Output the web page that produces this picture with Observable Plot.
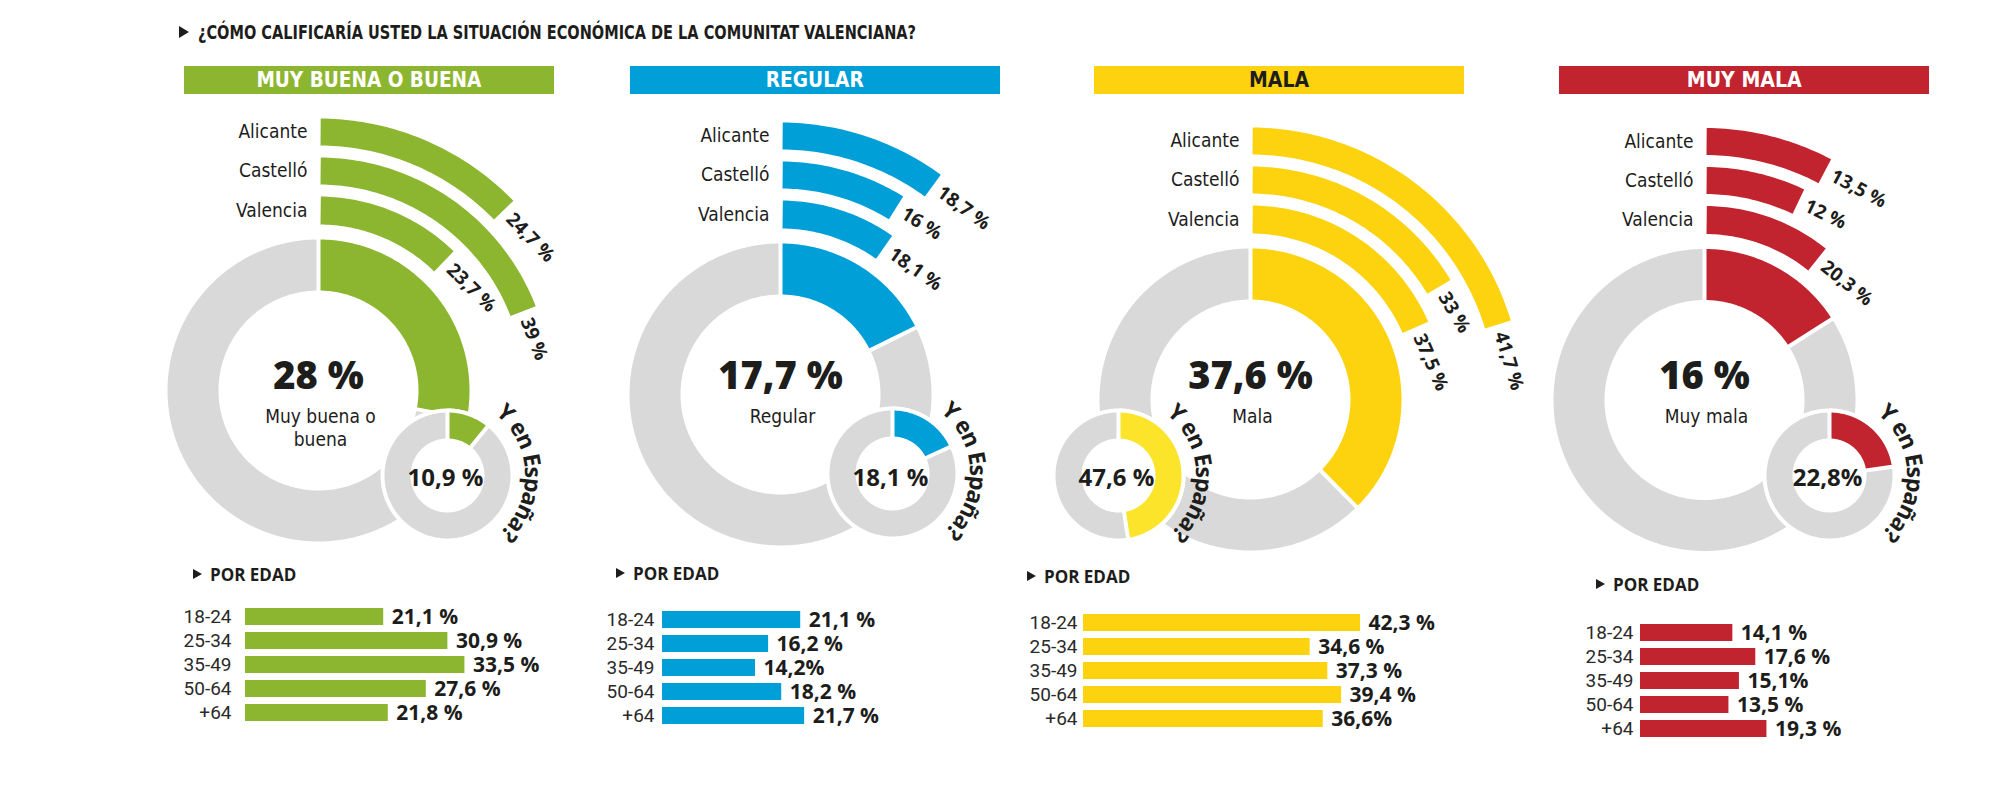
<!DOCTYPE html>
<html><head><meta charset="utf-8">
<script src="https://cdn.jsdelivr.net/npm/d3@7"></script>
<script src="https://cdn.jsdelivr.net/npm/@observablehq/plot@0.6"></script>
<style>
body{margin:0;background:#fff;}
#chart{position:relative;width:2000px;height:787px;overflow:hidden;background:#fff;color:#1d1d1b;}
.abs{position:absolute;}
.narrow{font-family:'Liberation Sans Narrow','DejaVu Sans Condensed','Roboto',sans-serif;font-weight:700;}
.fit{display:inline-block;white-space:nowrap;}
.tri{position:absolute;width:0;height:0;border-left:10px solid #1d1d1b;border-top:6px solid transparent;border-bottom:6px solid transparent;}
.hdr{display:flex;align-items:center;justify-content:center;overflow:visible;}
</style></head>
<body><div id="chart"></div>
<script>
// ---------------- DATA ----------------
const title = "¿CÓMO CALIFICARÍA USTED LA SITUACIÓN ECONÓMICA DE LA COMUNITAT VALENCIANA?";
const categories = ["MUY BUENA O BUENA", "REGULAR", "MALA", "MUY MALA"];
const centerNames = [["Muy buena o", "buena"], ["Regular"], ["Mala"], ["Muy mala"]];
const totalValues = [28, 17.7, 37.6, 16];
const totalLabels = ["28 %", "17,7 %", "37,6 %", "16 %"];
const provinces = ["Alicante", "Castelló", "Valencia"];
const alicanteValues = [24.7, 18.7, 41.7, 13.5];
const castelloValues = [39, 16, 33, 12];
const valenciaValues = [23.7, 18.1, 37.5, 20.3];
const alicanteLabels = ["24,7 %", "18,7 %", "41,7 %", "13,5 %"];
const castelloLabels = ["39 %", "16 %", "33 %", "12 %"];
const valenciaLabels = ["23,7 %", "18,1 %", "37,5 %", "20,3 %"];
const spainValues = [10.9, 18.1, 47.6, 22.8];
const spainLabels = ["10,9 %", "18,1 %", "47,6 %", "22,8%"];
const spainQuestion = "Y en España?";
const ageHeading = "POR EDAD";
const ages = ["18-24", "25-34", "35-49", "50-64", "+64"];
const buenaByAge = [21.1, 30.9, 33.5, 27.6, 21.8];
const regularByAge = [21.1, 16.2, 14.2, 18.2, 21.7];
const malaByAge = [42.3, 34.6, 37.3, 39.4, 36.6];
const muyMalaByAge = [14.1, 17.6, 15.1, 13.5, 19.3];
const buenaByAgeLabels = ["21,1 %", "30,9 %", "33,5 %", "27,6 %", "21,8 %"];
const regularByAgeLabels = ["21,1 %", "16,2 %", "14,2%", "18,2 %", "21,7 %"];
const malaByAgeLabels = ["42,3 %", "34,6 %", "37,3 %", "39,4 %", "36,6%"];
const muyMalaByAgeLabels = ["14,1 %", "17,6 %", "15,1%", "13,5 %", "19,3 %"];

// ---------------- LAYOUT / STYLE ----------------
const W = 2000, H = 787;
const INK = "#1d1d1b", GRAY = "#d9d9d9";
const colors = ["#8db630", "#009fd8", "#fdd20f", "#c1232f"];
const spainColors = ["#8db630", "#009fd8", "#fbe42a", "#c1232f"];
const headerInk = ["#fff", "#fff", INK, "#fff"];
const cxs = [318, 780, 1250, 1704], cys = [390, 394, 399, 399.5];
const scxs = [447, 892, 1118, 1829], scys = [475, 473, 475, 475];
const headerX = [184, 630, 1094, 1559], headerW = 370, headerY = 66, headerH = 28;
const headerTextW = [225, 98, 60, 115];
const barX0 = [245, 662, 1083, 1640], barTop = [608, 611, 614, 624];
const porX = [193, 616, 1027, 1596], porY = [575, 574, 577, 585];
const axisGap = [14, 8, 6, 7];
const R_IN = 100, R_OUT = 151;
const bandR = [[245, 272], [206, 233], [166, 194]];
const S_IN = 37, S_OUT = 63, S_BORDER = 4;
const NARROW = "'Liberation Sans Narrow','DejaVu Sans Condensed',Roboto,sans-serif";
const BOLD = "'Open Sans',Lato,sans-serif";

const byAge = [buenaByAge, regularByAge, malaByAge, muyMalaByAge];
const byAgeLabels = [buenaByAgeLabels, regularByAgeLabels, malaByAgeLabels, muyMalaByAgeLabels];
const provValues = [alicanteValues, castelloValues, valenciaValues];
const provLabels = [alicanteLabels, castelloLabels, valenciaLabels];

const mainAngle = d3.scaleLinear([0, 100], [0, 360]);
const bandAngle = d3.scaleLinear([0, 100], [6, 167]);

const rad = d => d * Math.PI / 180;
const pol = (cx, cy, r, a) => [cx + r * Math.sin(rad(a)), cy - r * Math.cos(rad(a))];
function arcPoly(id, cx, cy, r0, r1, a0, a1) {
  const n = Math.max(2, Math.ceil(Math.abs(a1 - a0)));
  const pts = [];
  for (let i = 0; i <= n; i++) { const [x, y] = pol(cx, cy, r1, a0 + (a1 - a0) * i / n); pts.push({id, x, y}); }
  for (let i = n; i >= 0; i--) { const [x, y] = pol(cx, cy, r0, a0 + (a1 - a0) * i / n); pts.push({id, x, y}); }
  return pts;
}

const chart = document.getElementById("chart");
const marks = [];
const ctx = document.createElement("canvas").getContext("2d");
ctx.font = `700 23px ${BOLD}`;

const textRows = {prov: [], band: [], total: [], name: [], spain: [], curve: []};

categories.forEach((cat, p) => {
  const cx = cxs[p], cy = cys[p], sx = scxs[p], sy = scys[p];
  const aMain = mainAngle(totalValues[p]);
  marks.push(Plot.line(arcPoly("g" + p, cx, cy, R_IN, R_OUT, aMain, 360), {x: "x", y: "y", z: "id", fill: GRAY, stroke: "none", curve: "linear-closed"}));
  marks.push(Plot.line(arcPoly("m" + p, cx, cy, R_IN - 2, R_OUT + 2, 0, aMain), {x: "x", y: "y", z: "id", fill: colors[p], stroke: "white", strokeWidth: 4, strokeLinejoin: "miter", curve: "linear-closed"}));
  provinces.forEach((prov, k) => {
    const [r0, r1] = bandR[k];
    const a1 = bandAngle(provValues[k][p]);
    const a0 = 2 / r0 * 180 / Math.PI;
    marks.push(Plot.line(arcPoly("b" + p + k, cx, cy, r0, r1, a0, a1), {x: "x", y: "y", z: "id", fill: colors[p], stroke: "none", curve: "linear-closed"}));
    const rm = (r0 + r1) / 2;
    textRows.prov.push({x: cx - 11, y: cy - rm, text: prov});
    const [ex, ey] = pol(cx, cy, rm, a1);
    textRows.band.push({x: ex + 8 * Math.cos(rad(a1)), y: ey + 8 * Math.sin(rad(a1)), text: provLabels[k][p], rotate: a1});
  });
  // Spain small donut
  const aS = mainAngle(spainValues[p]);
  marks.push(Plot.line(arcPoly("w" + p, sx, sy, 0, S_OUT + S_BORDER, 0, 360), {x: "x", y: "y", z: "id", fill: "white", stroke: "none", curve: "linear-closed"}));
  marks.push(Plot.line(arcPoly("sg" + p, sx, sy, S_IN, S_OUT, aS, 360), {x: "x", y: "y", z: "id", fill: GRAY, stroke: "none", curve: "linear-closed"}));
  marks.push(Plot.line(arcPoly("sc" + p, sx, sy, S_IN - 2, S_OUT + 2, 0, aS), {x: "x", y: "y", z: "id", fill: spainColors[p], stroke: "white", strokeWidth: 4, strokeLinejoin: "miter", curve: "linear-closed"}));
  textRows.total.push({x: cx, y: 376, text: totalLabels[p]});
  centerNames[p].forEach((t, j) => textRows.name.push({x: cx + 2, y: 416 + j * 23, text: t}));
  textRows.spain.push({x: sx - 2, y: 478, text: spainLabels[p]});
  // curved question
  const chars = Array.from(spainQuestion);
  const widths = chars.map(c => ctx.measureText(c).width);
  const total = d3.sum(widths);
  const rc = 85;
  const start = 88 - (total / rc) * 180 / Math.PI / 2;
  let cum = 0;
  chars.forEach((c, i) => {
    const a = start + ((cum + widths[i] / 2) / rc) * 180 / Math.PI;
    cum += widths[i];
    const [x, y] = pol(sx, sy, rc, a);
    textRows.curve.push({x, y, text: c, rotate: a});
  });
});

marks.push(Plot.text(textRows.prov, {x: "x", y: "y", text: "text", textAnchor: "end", lineAnchor: "middle", fontSize: 19, fontFamily: NARROW, fill: INK}));
marks.push(Plot.text(textRows.band, {x: "x", y: "y", text: "text", rotate: "rotate", textAnchor: "start", lineAnchor: "middle", fontSize: 19, fontWeight: 700, fontFamily: BOLD, fill: INK}));
marks.push(Plot.text(textRows.total, {x: "x", y: "y", text: "text", lineAnchor: "middle", fontSize: 38, fontWeight: 800, fontFamily: BOLD, fill: INK}));
marks.push(Plot.text(textRows.name, {x: "x", y: "y", text: "text", lineAnchor: "middle", fontSize: 19, fontFamily: NARROW, fill: INK}));
marks.push(Plot.text(textRows.spain, {x: "x", y: "y", text: "text", lineAnchor: "middle", fontSize: 24, fontWeight: 700, fontFamily: BOLD, fill: INK}));
marks.push(Plot.text(textRows.curve, {x: "x", y: "y", text: "text", rotate: "rotate", lineAnchor: "middle", fontSize: 23, fontWeight: 700, fontFamily: BOLD, fill: INK}));

const main = Plot.plot({
  width: W, height: H, margin: 0,
  x: {domain: [0, W], range: [0, W], axis: null},
  y: {domain: [0, H], range: [0, H], axis: null},
  style: {background: "transparent", overflow: "visible"},
  marks
});
main.style.position = "absolute"; main.style.left = "0px"; main.style.top = "0px";
chart.appendChild(main);

// Age bar charts
const ML = 70, XW = 393, BH = 121;
categories.forEach((cat, p) => {
  const rows = ages.map((a, i) => ({age: a, value: byAge[p][i], label: byAgeLabels[p][i]}));
  const bp = Plot.plot({
    width: ML + XW, height: BH, marginLeft: ML, marginRight: 0, marginTop: 0, marginBottom: 0,
    x: {domain: [0, 60], axis: null},
    y: {domain: ages, paddingInner: 0.3, paddingOuter: 0.15, tickSize: 0, tickPadding: axisGap[p], label: null},
    style: {background: "transparent", overflow: "visible", fontFamily: "Roboto, sans-serif", fontSize: "19px", color: "#2a2a2a"},
    marks: [
      Plot.barX(rows, {x: "value", y: "age", fill: colors[p]}),
      Plot.text(rows, {x: "value", y: "age", text: "label", dx: 8, textAnchor: "start", fontSize: 21, fontWeight: 700, fontFamily: BOLD, fill: INK})
    ]
  });
  bp.style.position = "absolute";
  bp.style.left = (barX0[p] - ML) + "px";
  bp.style.top = (barTop[p] - BH / 5 * 0.15) + "px";
  chart.appendChild(bp);

  // POR EDAD heading
  const tri = document.createElement("div");
  tri.className = "tri"; tri.style.left = porX[p] + "px"; tri.style.top = (porY[p] - 6) + "px";
  tri.style.borderLeftWidth = "9px"; tri.style.borderTopWidth = "5.5px"; tri.style.borderBottomWidth = "5.5px";
  chart.appendChild(tri);
  const pe = document.createElement("div");
  pe.className = "abs"; pe.textContent = ageHeading;
  pe.style.cssText += `left:${porX[p] + 17}px;top:${porY[p] - 12}px;font:700 17px ${BOLD};line-height:24px;color:${INK};`;
  chart.appendChild(pe);

  // Header bar
  const hd = document.createElement("div");
  hd.className = "abs hdr";
  hd.style.cssText += `left:${headerX[p]}px;top:${headerY}px;width:${headerW}px;height:${headerH}px;background:${colors[p]};`;
  const sp = document.createElement("span");
  sp.className = "fit narrow"; sp.textContent = cat;
  sp.style.cssText += `font-size:21px;line-height:28px;color:${headerInk[p]};transform-origin:center;`;
  hd.appendChild(sp);
  chart.appendChild(hd);
  const w = sp.getBoundingClientRect().width;
  sp.style.transform = `scaleX(${headerTextW[p] / w})`;
});

// Title
const ttri = document.createElement("div");
ttri.className = "tri"; ttri.style.left = "179px"; ttri.style.top = "26px";
chart.appendChild(ttri);
const tdiv = document.createElement("div");
tdiv.className = "abs"; tdiv.style.left = "198px"; tdiv.style.top = "20px";
const tsp = document.createElement("span");
tsp.className = "fit narrow"; tsp.textContent = title;
tsp.style.cssText += `font-size:19px;line-height:24px;color:${INK};transform-origin:left center;`;
tdiv.appendChild(tsp); chart.appendChild(tdiv);
tsp.style.transform = `scaleX(${718 / tsp.getBoundingClientRect().width})`;
</script>
</body></html>
